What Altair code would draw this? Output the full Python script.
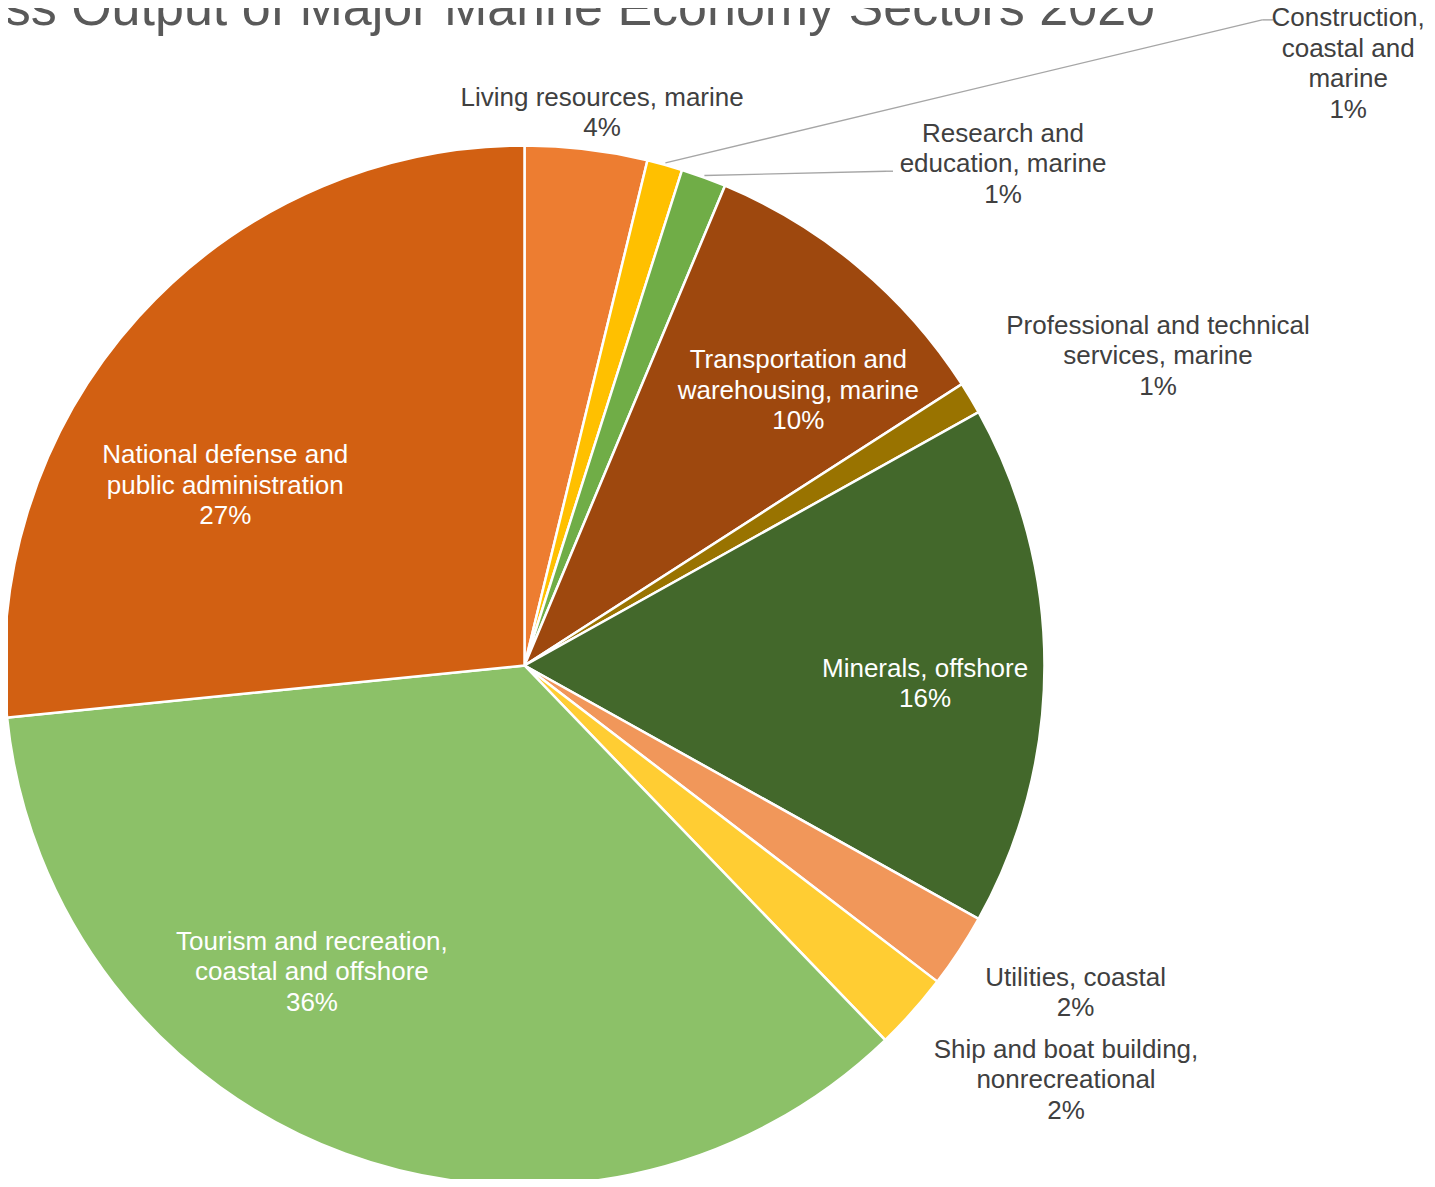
import altair as alt
import pandas as pd

TITLE = "Gross Output of Major Marine Economy Sectors 2020"

CATEGORIES = [
    "Living resources, marine",
    "Construction, coastal and marine",
    "Research and education, marine",
    "Transportation and warehousing, marine",
    "Professional and technical services, marine",
    "Minerals, offshore",
    "Utilities, coastal",
    "Ship and boat building, nonrecreational",
    "Tourism and recreation, coastal and offshore",
    "National defense and public administration",
]
SHARES = [3.8, 1.1, 1.4, 9.6, 1.0, 16.2, 2.3, 2.4, 35.6, 26.6]
COLORS = ["#ED7D31", "#FFC000", "#70AD47", "#9E480E", "#997300",
          "#43682B", "#F1975A", "#FFCD33", "#8CC168", "#D26012"]

# label text as wrapped in the chart
LABEL_LINES = [
    ["Living resources, marine"],
    ["Construction,", "coastal and", "marine"],
    ["Research and", "education, marine"],
    ["Transportation and", "warehousing, marine"],
    ["Professional and technical", "services, marine"],
    ["Minerals, offshore"],
    ["Utilities, coastal"],
    ["Ship and boat building,", "nonrecreational"],
    ["Tourism and recreation,", "coastal and offshore"],
    ["National defense and", "public administration"],
]
INSIDE = [False, False, False, True, False, True, False, False, True, True]

# ---- layout (not data) ----
CX, CY, R = 516.5, 657.5, 520
RIM = 522
LH = 30.5
LABEL_R = [558, 1020, 693, 388, 705, 401, 641, 682, 373, 349]
LABEL_SHIFT = [0.32, 10.61, 6.53, 1.37, 1.37, 0.73, -0.72, -1.2, 4.05, -3.1]
LEADER = {1: (-86, -44, -75, -44), 2: (-117, 7, -110, 7)}

total = sum(SHARES)
rows = []
for i, (c, v) in enumerate(zip(CATEGORIES, SHARES)):
    pct = f"{round(v / total * 100)}%"
    ld = LEADER.get(i, (0, 0, 0, 0))
    lines = LABEL_LINES[i] + [pct]
    rows.append({
        "order": i,
        "category": c,
        "value": v,
        "label": "\n".join(lines),
        "nlines": len(lines),
        "inside": INSIDE[i],
        "lr": LABEL_R[i],
        "shift": LABEL_SHIFT[i],
        "has_leader": i in LEADER,
        "el_dx": ld[0], "el_dy": ld[1], "en_dx": ld[2], "en_dy": ld[3],
    })
df = pd.DataFrame(rows)

base = alt.Chart(df)

arcs = base.mark_arc(radius=R, stroke="white", strokeWidth=2.5).encode(
    theta=alt.Theta("value:Q", stack=True),
    order=alt.Order("order:Q"),
    color=alt.Color("category:N", scale=alt.Scale(domain=CATEGORIES, range=COLORS), legend=None),
    x=alt.value(CX),
    y=alt.value(CY),
)

geo = base.transform_joinaggregate(
    total="sum(value)"
).transform_window(
    cum="sum(value)", sort=[alt.SortField("order")], frame=[None, 0]
).transform_calculate(
    mid="datum.cum - datum.value / 2"
).transform_calculate(
    a_mid="2 * PI * datum.mid / datum.total",
    a_lab="2 * PI * (datum.mid + datum.shift) / datum.total",
).transform_calculate(
    lx=f"{CX} + datum.lr * sin(datum.a_lab)",
    ly=f"{CY} - datum.lr * cos(datum.a_lab)",
    rx=f"{CX} + {RIM} * sin(datum.a_mid)",
    ry=f"{CY} - {RIM} * cos(datum.a_mid)",
).transform_calculate(
    ty=f"datum.ly - (datum.nlines - 1) * {LH} / 2",
    ex="datum.lx + datum.el_dx",
    ey="datum.ly + datum.el_dy",
    nx="datum.lx + datum.en_dx",
    ny="datum.ly + datum.en_dy",
)

FONT = "Liberation Sans"

def labels(inside, color):
    return geo.transform_filter(
        "datum.inside" if inside else "!datum.inside"
    ).mark_text(
        font=FONT, fontSize=26, lineBreak="\n", lineHeight=LH,
        align="center", baseline="middle", color=color,
    ).encode(
        x=alt.X("lx:Q", scale=None, axis=None),
        y=alt.Y("ty:Q", scale=None, axis=None),
        text="label:N",
    )

leader1 = geo.transform_filter("datum.has_leader").mark_rule(
    color="#A6A6A6", strokeWidth=1.4
).encode(
    x=alt.X("rx:Q", scale=None, axis=None),
    y=alt.Y("ry:Q", scale=None, axis=None),
    x2="ex:Q", y2="ey:Q",
)
leader2 = geo.transform_filter("datum.has_leader").mark_rule(
    color="#A6A6A6", strokeWidth=1.4
).encode(
    x=alt.X("ex:Q", scale=None, axis=None),
    y=alt.Y("ey:Q", scale=None, axis=None),
    x2="nx:Q", y2="ny:Q",
)

title = alt.Chart(pd.DataFrame({"t": [TITLE]})).mark_text(
    font=FONT, fontSize=52, color="#595959", align="right", baseline="alphabetic"
).encode(
    x=alt.value(1147), y=alt.value(17), text="t:N"
)

chart = alt.layer(
    arcs, leader1, leader2, labels(True, "white"), labels(False, "#404040"), title
).properties(
    width=1419, height=1171,
    autosize=alt.AutoSizeParams(type="none"),
    padding=0,
    background="white",
).configure_view(strokeWidth=0)

chart.save("out.html", embed_options={"renderer": "svg", "actions": False})
